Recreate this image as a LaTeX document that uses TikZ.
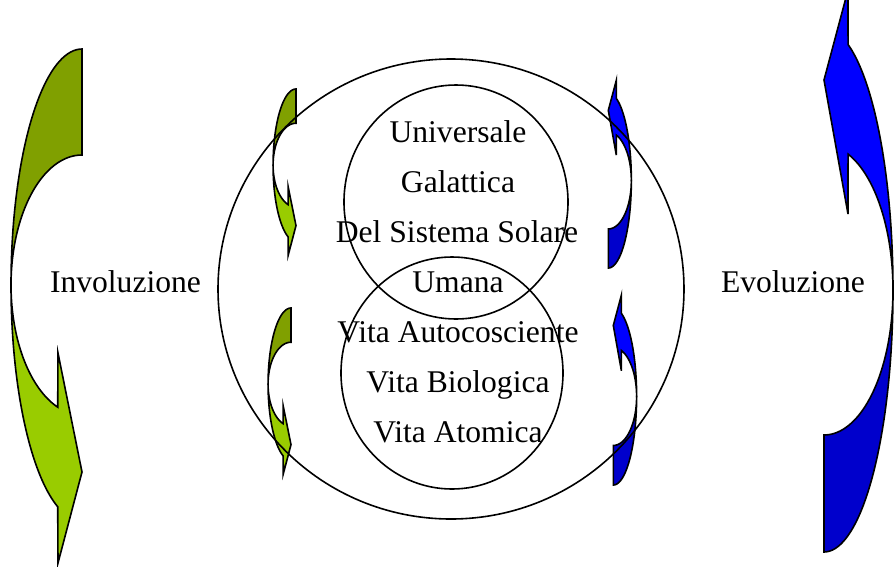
\documentclass[tikz,border=0pt]{standalone}
\usepackage{fontspec}
\setmainfont{Liberation Serif}
\definecolor{gdark}{RGB}{128,160,0}
\definecolor{glight}{RGB}{153,204,0}
\definecolor{bbright}{RGB}{0,0,255}
\definecolor{bdark}{RGB}{0,0,204}
\tikzset{
  outl/.style={draw=black, line width=1.6pt, line join=miter},
  ring/.style={draw=black, line width=1.6pt},
  lbl/.style={font=\fontsize{31.6}{38}\selectfont, anchor=base, inner sep=0pt},
}
% curved arrow pointing down (origin = top-right corner, y downwards)
\newcommand{\invshape}{%
  \filldraw[outl, fill=gdark]
    plot[domain=270:180, samples=40] ({71*cos(\x)},{236+236*sin(\x)})
    -- plot[domain=180:270, samples=40] ({71*cos(\x)},{236+130*sin(\x)}) -- cycle;
  \filldraw[outl, fill=glight]
    plot[domain=180:110, samples=40] ({71*cos(\x)},{236+236*sin(\x)})
    -- (-24,514) -- (0,423) -- (-24,304)
    -- plot[domain=110:180, samples=40] ({71*cos(\x)},{236+130*sin(\x)}) -- cycle;
}
% curved arrow pointing up (origin = bottom-left corner, y downwards)
\newcommand{\evoshape}{%
  \filldraw[outl, fill=bdark]
    plot[domain=90:0, samples=40] ({69*cos(\x)},{-262+262*sin(\x)})
    -- plot[domain=0:90, samples=40] ({69*cos(\x)},{-262+145*sin(\x)}) -- cycle;
  \filldraw[outl, fill=bbright]
    plot[domain=0:-69.6, samples=40] ({69*cos(\x)},{-262+262*sin(\x)})
    -- (24,-562) -- (0,-472) -- (24,-338)
    -- plot[domain=-69.6:0, samples=40] ({69*cos(\x)},{-262+145*sin(\x)}) -- cycle;
}
\begin{document}
\begin{tikzpicture}[x=1pt, y=-1pt]
  \useasboundingbox (0,0) rectangle (895,566);
  % arrows
  \begin{scope}[shift={(82,49)}] \invshape \end{scope}
  \begin{scope}[shift={(296,89)}, scale=0.323] \invshape \end{scope}
  \begin{scope}[shift={(291,308)}, scale=0.323] \invshape \end{scope}
  \begin{scope}[shift={(824,552)}] \evoshape \end{scope}
  \begin{scope}[shift={(608.3,268)}, scale=0.334] \evoshape \end{scope}
  \begin{scope}[shift={(613.3,485)}, scale=0.338] \evoshape \end{scope}
  % circles
  \draw[ring] (451,289) ellipse [x radius=233pt, y radius=230pt];
  \draw[ring] (456,202) ellipse [x radius=112pt, y radius=117pt];
  \draw[ring] (452,373) ellipse [x radius=111pt, y radius=116pt];
  % texts
  \node[lbl] (uni) at (458,142) {Universale};
  \node[lbl] (gal) at (458,192) {Galattica};
  \node[lbl] (sol) at (457,242) {Del Sistema Solare};
  \node[lbl] (uma) at (458,292) {Umana};
  \node[lbl] (aut) at (458,342) {Vita Autocosciente};
  \node[lbl] (bio) at (458,392) {Vita Biologica};
  \node[lbl] (ato) at (458,442) {Vita Atomica};
  \node[lbl] (inv) at (125.5,292) {Involuzione};
  \node[lbl] (evo) at (793,292) {Evoluzione};
\end{tikzpicture}
\end{document}
